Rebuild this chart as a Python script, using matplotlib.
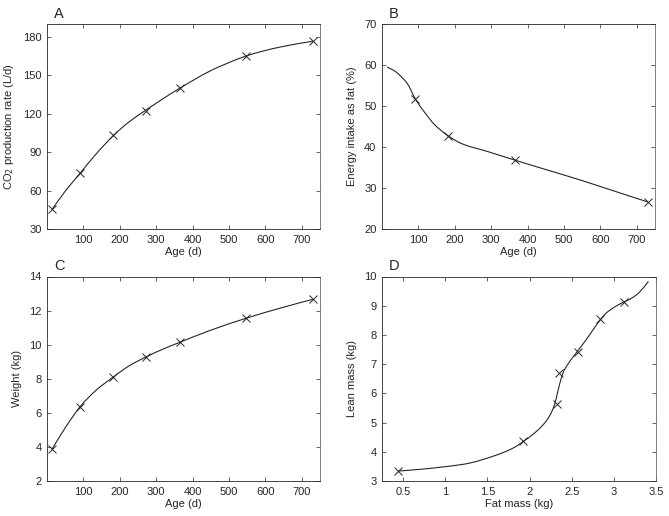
import matplotlib
matplotlib.use('Agg')
import matplotlib.pyplot as plt
import numpy as np
from matplotlib.path import Path
from matplotlib.patches import PathPatch

plt.rcParams['font.family'] = ['Liberation Sans', 'DejaVu Sans']

# --- Panel A: CO2 production vs age ---
age_a = [14, 91, 182, 273, 365, 547, 730]
co2 = [45.3, 73.5, 103.6, 122.3, 140.1, 165.2, 176.5]
curve_a_x = [14, 50, 91, 135, 182, 225, 273, 320, 365, 450, 547, 640, 730]
curve_a_y = [45.3, 59.5, 73.5, 88.6, 102.8, 113.5, 123.0, 131.9, 139.9, 153.6, 165.0, 172.0, 176.5]

# --- Panel B: energy intake as fat vs age ---
age_b = [91, 182, 365, 730]
fat_pct = [51.8, 42.7, 36.8, 26.6]
curve_b_x = [14, 40, 70, 91, 115, 145, 182, 225, 290, 365, 450, 550, 650, 730]
curve_b_y = [59.5, 58.2, 55.4, 51.8, 48.7, 45.4, 42.7, 40.6, 38.9, 36.8, 34.5, 31.8, 28.9, 26.6]

# --- Panel C: weight vs age ---
age_c = [14, 91, 182, 273, 365, 547, 730]
weight = [3.87, 6.36, 8.10, 9.29, 10.14, 11.55, 12.66]
curve_c_x = [14, 50, 91, 135, 182, 225, 273, 320, 365, 450, 547, 640, 730]
curve_c_y = [3.87, 5.12, 6.36, 7.33, 8.10, 8.75, 9.29, 9.75, 10.14, 10.85, 11.55, 12.14, 12.66]

# --- Panel D: lean mass vs fat mass ---
fat_mass = [0.44, 1.92, 2.33, 2.354, 2.574, 2.84, 3.12]
lean_mass = [3.33, 4.36, 5.62, 6.69, 7.40, 8.55, 9.13]
curve_d_x = [0.44, 0.7, 1.0, 1.3, 1.6, 1.8, 1.93, 2.05, 2.14, 2.21, 2.26, 2.30, 2.33,
             2.36, 2.40, 2.45, 2.52, 2.60, 2.70, 2.80, 2.90, 3.00, 3.10, 3.20, 3.30, 3.41]
curve_d_y = [3.34, 3.40, 3.49, 3.62, 3.88, 4.12, 4.36, 4.62, 4.86, 5.10, 5.35, 5.65, 6.0,
             6.35, 6.72, 6.98, 7.26, 7.56, 7.95, 8.37, 8.72, 8.94, 9.10, 9.24, 9.45, 9.83]

W, H = 669, 516
fig = plt.figure(figsize=(W / 100, H / 100), dpi=100)
INK = '#262626'


def make_axes(left, top, right, bottom):
    return fig.add_axes([left / W, 1 - bottom / H, (right - left) / W, (bottom - top) / H])


def smooth_curve(ax, xs, ys):
    # draw the read-off curve points as a smooth Bezier path (Catmull-Rom)
    p = np.column_stack([xs, ys]).astype(float)
    n = len(p)
    verts = [p[0]]
    codes = [Path.MOVETO]
    for i in range(n - 1):
        p0 = p[i - 1] if i > 0 else p[i]
        p1, p2 = p[i], p[i + 1]
        p3 = p[i + 2] if i + 2 < n else p[i + 1]
        verts += [p1 + (p2 - p0) / 6, p2 - (p3 - p1) / 6, p2]
        codes += [Path.CURVE4] * 3
    ax.add_patch(PathPatch(Path(verts, codes), fill=False, edgecolor=INK, lw=0.8))


def style(ax, letter, xlabel, ylabel):
    for s in ax.spines.values():
        s.set_color(INK)
        s.set_linewidth(0.6)
    ax.spines['right'].set_color('#6a6a6a')
    ax.tick_params(direction='in', top=True, right=True, length=3, width=0.5,
                   labelsize=8, colors=INK, pad=4)
    ax.set_xlabel(xlabel, fontsize=8, labelpad=2, color=INK)
    ax.set_ylabel(ylabel, fontsize=8, labelpad=5, color=INK)
    ax.text(0.025, 1.015, letter, transform=ax.transAxes, ha='left', va='bottom',
            fontsize=10.5, color=INK)


mark_kw = dict(ls='none', marker='x', ms=5.5, mew=0.7, color=INK)

axA = make_axes(47, 24, 320, 229)
smooth_curve(axA, curve_a_x, curve_a_y)
axA.plot(age_a, co2, **mark_kw)
axA.set_xlim(0, 750)
axA.set_ylim(30, 190)
axA.set_xticks(range(100, 800, 100))
axA.set_yticks(range(30, 181, 30))
style(axA, 'A', 'Age (d)', 'CO$_2$ production rate (L/d)')

axB = make_axes(382, 24, 655, 229)
smooth_curve(axB, curve_b_x, curve_b_y)
axB.plot(age_b, fat_pct, **mark_kw)
axB.set_xlim(0, 750)
axB.set_ylim(20, 70)
axB.set_xticks(range(100, 800, 100))
axB.set_yticks(range(20, 71, 10))
style(axB, 'B', 'Age (d)', 'Energy intake as fat (%)')

axC = make_axes(47, 276.5, 320, 481)
smooth_curve(axC, curve_c_x, curve_c_y)
axC.plot(age_c, weight, **mark_kw)
axC.set_xlim(0, 750)
axC.set_ylim(2, 14)
axC.set_xticks(range(100, 800, 100))
axC.set_yticks(range(2, 15, 2))
style(axC, 'C', 'Age (d)', 'Weight (kg)')

axD = make_axes(382, 276.5, 656, 481)
smooth_curve(axD, curve_d_x, curve_d_y)
axD.plot(fat_mass, lean_mass, **mark_kw)
axD.set_xlim(0.25, 3.5)
axD.set_ylim(3, 10)
axD.set_xticks([0.5, 1, 1.5, 2, 2.5, 3, 3.5])
axD.set_xticklabels(['0.5', '1', '1.5', '2', '2.5', '3', '3.5'])
axD.set_yticks(range(3, 11))
style(axD, 'D', 'Fat mass (kg)', 'Lean mass (kg)')

fig.savefig('out.png', dpi=100)
